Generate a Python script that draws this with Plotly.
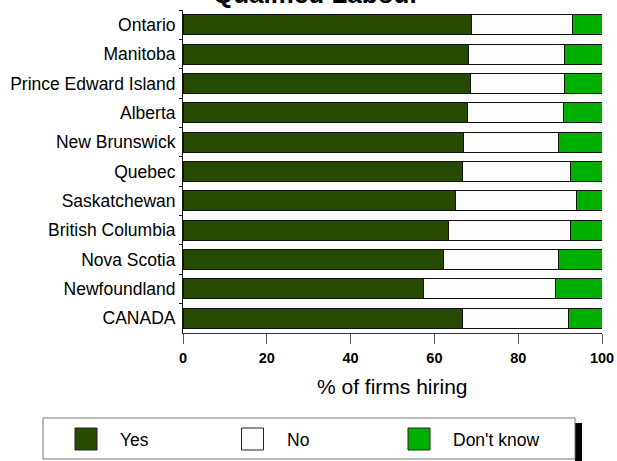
import plotly.graph_objects as go

# Share of firms planning to hire qualified labour, by province
provinces = [
    "Ontario", "Manitoba", "Prince Edward Island", "Alberta", "New Brunswick",
    "Quebec", "Saskatchewan", "British Columbia", "Nova Scotia",
    "Newfoundland", "CANADA",
]
yes_pct = [68.9, 68.2, 68.7, 67.8, 66.9, 66.7, 65.1, 63.4, 62.1, 57.5, 66.8]
no_pct = [24.0, 22.8, 22.3, 22.9, 22.8, 25.7, 28.8, 29.2, 27.6, 31.5, 25.1]
dont_know_pct = [7.1, 9.0, 9.0, 9.3, 10.3, 7.6, 6.1, 7.4, 10.3, 11.0, 8.1]

series_names = ["Yes", "No", "Don't know"]
series_colors = ["#264a00", "#fdfdfb", "#00b000"]
x_ticks = [0, 20, 40, 60, 80, 100]

W, H = 617, 461
M_L, M_R, M_T, M_B = 183, 15, 10, 128
PW = W - M_L - M_R
PH = H - M_T - M_B
FONT = "Liberation Sans, Arial, sans-serif"


def px_x(px):
    return (px - M_L) / PW


def px_y(py):
    return (H - M_B - py) / PH


fig = go.Figure()
for name, color, vals in zip(series_names, series_colors,
                             [yes_pct, no_pct, dont_know_pct]):
    fig.add_trace(go.Bar(
        y=provinces, x=vals, name=name, orientation="h", width=0.68,
        marker=dict(color=color, line=dict(color="#111111", width=1)),
        showlegend=False,
    ))

shapes = []
annotations = []

# legend frame with drop shadow
shapes.append(dict(type="rect", xref="paper", yref="paper",
                   x0=px_x(575), x1=px_x(582), y0=px_y(423), y1=px_y(465),
                   fillcolor="#000000", line=dict(width=0), layer="above"))
shapes.append(dict(type="rect", xref="paper", yref="paper",
                   x0=px_x(43), x1=px_x(575), y0=px_y(418), y1=px_y(459),
                   fillcolor="#ffffff", line=dict(color="#777777", width=1),
                   layer="above"))
for i, (name, color) in enumerate(zip(series_names, series_colors)):
    sx = 75 + i * 166.5
    shapes.append(dict(type="rect", xref="paper", yref="paper",
                       x0=px_x(sx), x1=px_x(sx + 22),
                       y0=px_y(428), y1=px_y(450),
                       fillcolor=color, line=dict(color="#222222", width=1),
                       layer="above"))
    annotations.append(dict(text=name, xref="paper", yref="paper",
                            x=px_x(sx + 43), y=px_y(439.5),
                            xanchor="left", yanchor="middle", showarrow=False,
                            font=dict(family=FONT, size=17.5, color="#000000")))

# chart title (sits partly above the top edge)
annotations.append(dict(text="<b>Qualified Labour</b>", xref="paper", yref="paper",
                        x=px_x(316.5), y=px_y(11), xanchor="center",
                        yanchor="bottom", showarrow=False,
                        font=dict(family=FONT, size=26, color="#000000")))
# x-axis title
annotations.append(dict(text="% of firms hiring", xref="paper", yref="paper",
                        x=0.5, y=px_y(386), xanchor="center",
                        yanchor="middle", showarrow=False,
                        font=dict(family=FONT, size=21, color="#000000")))

fig.update_layout(
    width=W, height=H,
    margin=dict(l=M_L, r=M_R, t=M_T, b=M_B, pad=0, autoexpand=False),
    barmode="stack", bargap=0.32,
    paper_bgcolor="#ffffff", plot_bgcolor="#ffffff",
    font=dict(family=FONT, color="#000000"),
    showlegend=False,
    shapes=shapes, annotations=annotations,
    xaxis=dict(range=[0, 100], tickvals=x_ticks, ticktext=[str(t) for t in x_ticks],
               automargin=False,
               showgrid=False, zeroline=False, showline=True,
               linecolor="#333333", linewidth=1,
               ticks="outside", ticklen=10, tickcolor="#555555", tickwidth=1,
               ticklabelstandoff=2,
               tickfont=dict(family=FONT, size=14.5, color="#000000", weight="bold"),
               fixedrange=True),
    yaxis=dict(categoryorder="array", categoryarray=provinces,
               autorange="reversed", automargin=False,
               showgrid=False, zeroline=False,
               showline=True, linecolor="#111111", linewidth=1,
               ticks="outside", ticklen=3, tickcolor="#111111",
               tickson="boundaries", ticklabelstandoff=3,
               tickfont=dict(family=FONT, size=17.5, color="#000000"),
               fixedrange=True),
)

fig.write_html("out.html")
